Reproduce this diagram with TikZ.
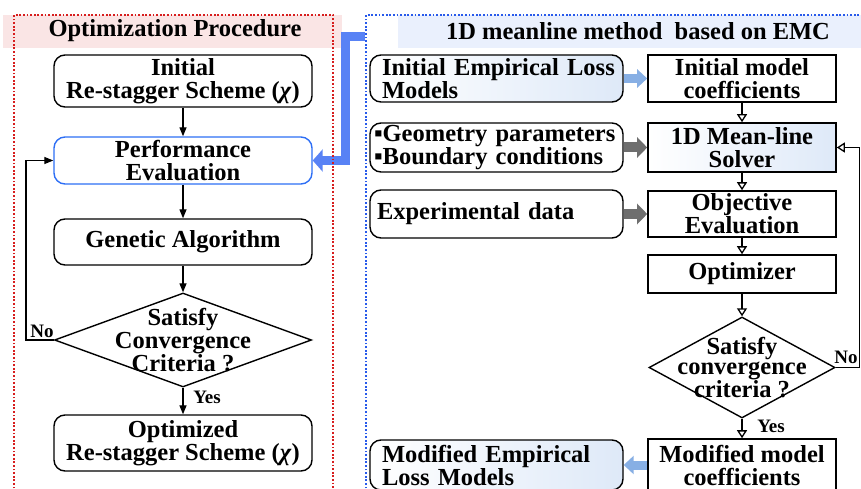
\documentclass[tikz,border=0pt]{standalone}
\usepackage{fontspec}
\setmainfont{Liberation Serif}
\usetikzlibrary{shapes.geometric,arrows.meta}
\definecolor{redb}{RGB}{215,30,30}
\definecolor{blueb}{RGB}{40,90,235}
\definecolor{pinkband}{RGB}{250,229,229}
\definecolor{blueband}{RGB}{234,240,253}
\definecolor{conn}{RGB}{88,130,245}
\definecolor{lightarr}{RGB}{135,175,228}
\definecolor{greyarr}{RGB}{110,110,110}
\definecolor{shadeblue}{RGB}{222,233,248}
\definecolor{perfblue}{RGB}{45,110,245}
\begin{document}
\begin{tikzpicture}[x=1pt,y=-1pt,
  font=\fontsize{24.5}{23}\selectfont\bfseries,
  lbox/.style={draw, line width=1.4pt, rounded corners=11pt, minimum width=258pt, align=center, inner sep=0pt},
  rbox/.style={draw, line width=1.4pt, rounded corners=11pt, minimum width=253pt, align=left, inner sep=0pt},
  rectbox/.style={draw, line width=1.6pt, minimum width=188pt, align=center, inner sep=0pt},
  arr/.style={line width=1.3pt, -{Triangle[length=9pt,width=7pt]}},
  rarr/.style={line width=1.3pt, -{Triangle[open,length=8pt,width=10pt]}},
  fatl/.style={lightarr, line width=9pt, -{Triangle[length=10pt,width=18pt]}},
  fatg/.style={greyarr, line width=10pt, -{Triangle[length=10pt,width=20pt]}},
  lab/.style={font=\fontsize{19}{19}\selectfont\bfseries, inner sep=0pt}
]
\useasboundingbox (0,0) rectangle (861,489);
% title bands
\fill[pinkband] (3,15) rectangle (342,48);
\fill[blueband] (398,15) rectangle (861,48);
\node (t1) at (175,31) {Optimization Procedure};
\node (t2) at (638,31) {1D meanline method\ \ based on EMC};

% left column nodes
\node[lbox, minimum height=52pt] (init) at (183,81) {Initial\\Re-stagger Scheme (\textit{χ})};
\node[lbox, draw=perfblue, minimum height=47pt] (perf) at (183,160.5) {Performance\\Evaluation};
\node[lbox, minimum height=46pt] (ga) at (183,242) {Genetic Algorithm};
\node[draw, diamond, line width=1.4pt, minimum width=257pt, minimum height=94pt, inner sep=0pt] (dec) at (183,340) {};
\node[align=center, font=\fontsize{24.5}{21}\selectfont\bfseries] (dect) at (183,340) {Satisfy\\Convergence\\Criteria ?};
\node[lbox, minimum height=56pt] (opt) at (183,443) {Optimized\\Re-stagger Scheme (\textit{χ})};

% blue connector
\coordinate (bc) at (365,37);
\draw[conn, line width=9pt, line join=miter, -{Triangle[length=10pt,width=22pt]}] (bc) -- (345,37) -- (345,160.5) -- (perf.east);

% dotted frames
\begin{scope}
\clip (0,0) rectangle (861,489);
\draw[redb, line width=1.8pt, dash pattern=on 1.8pt off 1.8pt] (14,600) -- (14,15) -- (333,15) -- (333,600);
\draw[blueb, line width=1.8pt, dash pattern=on 1.8pt off 1.8pt] (366,600) -- (366,15) -- (900,15);
\end{scope}

% left arrows
\draw[arr] (init) -- (perf);
\draw[arr] (perf) -- (ga);
\draw[arr] (ga) -- (dec);
\draw[arr] (dec) -- (opt);
\coordinate (nl) at (26,340);
\draw[line width=1.3pt, -{Triangle[length=9pt,width=7pt]}] (dec.west) -- (nl) |- (perf.west);
\node[lab] (no1) at (42,331) {No};
\node[lab] (yes1) at (207,397) {Yes};

% right column nodes
\node[rbox, minimum height=47pt, text width=229pt, left color=white, right color=shadeblue] (iel) at (496.5,78.5) {\mbox{Initial Empirical Loss}\\Models};
\node[rectbox, minimum height=47pt] (imc) at (742,78.5) {Initial model\\coefficients};
\node[rbox, minimum height=49pt, text width=245pt] (geo) at (496.5,147.5) {\mbox{▪Geometry parameters}\\\mbox{▪Boundary conditions}};
\node[rectbox, minimum height=49pt, left color=white, right color=shadeblue] (sol) at (742,147.5) {1D Mean-line\\Solver};
\node[rbox, minimum height=48pt, text width=239pt] (exp) at (496.5,214) {Experimental data};
\node[rectbox, minimum height=46pt] (obj) at (742,214) {Objective\\Evaluation};
\node[rectbox, minimum height=38pt] (optz) at (742,274) {Optimizer};
\node[draw, diamond, line width=1.4pt, minimum width=186pt, minimum height=101pt, inner sep=0pt] (dec2) at (742,367.5) {};
\node[align=center, font=\fontsize{24.5}{20}\selectfont\bfseries] (dec2t) at (742,367.5) {Satisfy\\convergence\\criteria ?};
\node[rectbox, minimum height=52pt] (mmc) at (742,465) {Modified model\\coefficients};
\node[rbox, minimum height=50pt, text width=229pt, left color=white, right color=shadeblue] (mel) at (496.5,465) {\mbox{Modified Empirical}\\Loss Models};

% right arrows
\draw[rarr] (imc) -- (sol);
\draw[rarr] (sol) -- (obj);
\draw[rarr] (obj) -- (optz);
\draw[rarr] (optz) -- (dec2);
\draw[rarr] (dec2) -- (mmc);
\coordinate (nr) at (859.5,367.5);
\draw[rarr] (dec2.east) -- (nr) |- (sol.east);
\node[lab] (no2) at (846,357) {No};
\node[lab] (yes2) at (771,426) {Yes};

\draw[fatl] (iel.east) -- (imc.west);
\draw[fatg] (geo.east) -- (sol.west);
\draw[fatg] (exp.east) -- (obj.west);
\draw[fatl] (mmc.west) -- (mel.east);
\end{tikzpicture}
\end{document}
